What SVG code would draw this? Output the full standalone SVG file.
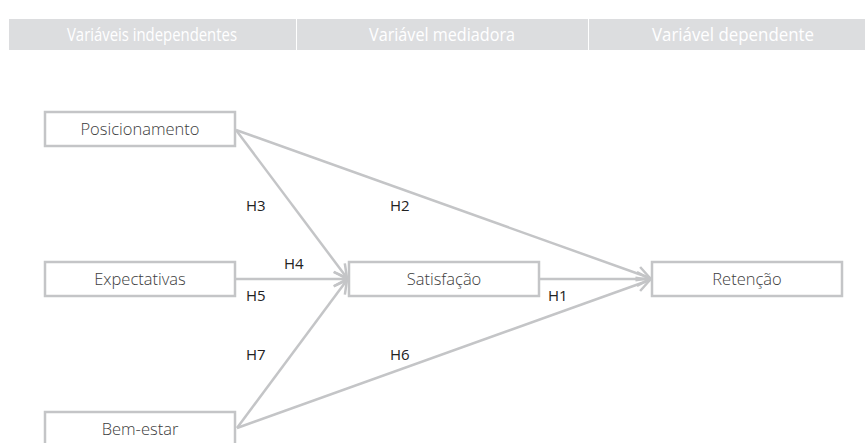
<svg xmlns="http://www.w3.org/2000/svg" width="865" height="443" viewBox="0 0 865 443">
  <defs>
    <style>
      .hdr { fill: #dcdddf; }
      .hdrtxt { fill: #ffffff; font-family: "Open Sans", "Noto Sans", sans-serif; font-size: 18px; font-weight: 400; text-anchor: middle; }
      .node rect { fill: #ffffff; stroke: #c4c5c7; stroke-width: 2.5; }
      .node text { fill: #3c3c3c; font-family: "Open Sans", "Noto Sans", sans-serif; font-size: 16.5px; font-weight: 300; text-anchor: middle; }
      .conn line { stroke: #c4c5c7; stroke-width: 2.5; fill: none; marker-end: url(#arrow); }
      .lbl { fill: #222222; font-family: "Open Sans", "Noto Sans", sans-serif; font-size: 15px; font-weight: 400; }
    </style>
    <marker id="arrow" viewBox="-16 -10 20 20" refX="0" refY="0" markerWidth="20" markerHeight="20" markerUnits="userSpaceOnUse" orient="auto">
      <path d="M-13,-7 L0,0 L-13,7" fill="none" stroke="#c4c5c7" stroke-width="2.5"/>
    </marker>
  </defs>

  <g id="header">
    <rect class="hdr" x="9" y="19" width="287" height="31"/>
    <rect class="hdr" x="297" y="19" width="291" height="31"/>
    <rect class="hdr" x="589" y="19" width="276" height="31"/>
    <text class="hdrtxt" x="152" y="41" textLength="170" lengthAdjust="spacingAndGlyphs">Variáveis independentes</text>
    <text class="hdrtxt" x="442" y="41" textLength="146" lengthAdjust="spacingAndGlyphs">Variável mediadora</text>
    <text class="hdrtxt" x="733" y="41" textLength="162" lengthAdjust="spacingAndGlyphs">Variável dependente</text>
  </g>

  <g id="connectors" class="conn">
    <line x1="236" y1="130" x2="347" y2="278"/>
    <line x1="236" y1="130" x2="650" y2="278"/>
    <line x1="236" y1="279" x2="347" y2="279"/>
    <line x1="237" y1="428" x2="347" y2="280"/>
    <line x1="237" y1="428" x2="650" y2="280"/>
    <line x1="540" y1="279" x2="650" y2="279"/>
  </g>

  <g id="labels">
    <text class="lbl" x="246" y="211">H3</text>
    <text class="lbl" x="390" y="211">H2</text>
    <text class="lbl" x="284" y="269">H4</text>
    <text class="lbl" x="246" y="301">H5</text>
    <text class="lbl" x="548" y="301">H1</text>
    <text class="lbl" x="246" y="360">H7</text>
    <text class="lbl" x="390" y="360">H6</text>
  </g>

  <g id="posicionamento" class="node">
    <rect x="45" y="112" width="190" height="34"/>
    <text x="140" y="135">Posicionamento</text>
  </g>
  <g id="expectativas" class="node">
    <rect x="45" y="262" width="190" height="34"/>
    <text x="140" y="285">Expectativas</text>
  </g>
  <g id="bem-estar" class="node">
    <rect x="45" y="412" width="190" height="34"/>
    <text x="140" y="435">Bem-estar</text>
  </g>
  <g id="satisfacao" class="node">
    <rect x="349" y="262" width="190" height="34"/>
    <text x="444" y="285">Satisfação</text>
  </g>
  <g id="retencao" class="node">
    <rect x="652" y="262" width="190" height="34"/>
    <text x="747" y="285">Retenção</text>
  </g>
</svg>
